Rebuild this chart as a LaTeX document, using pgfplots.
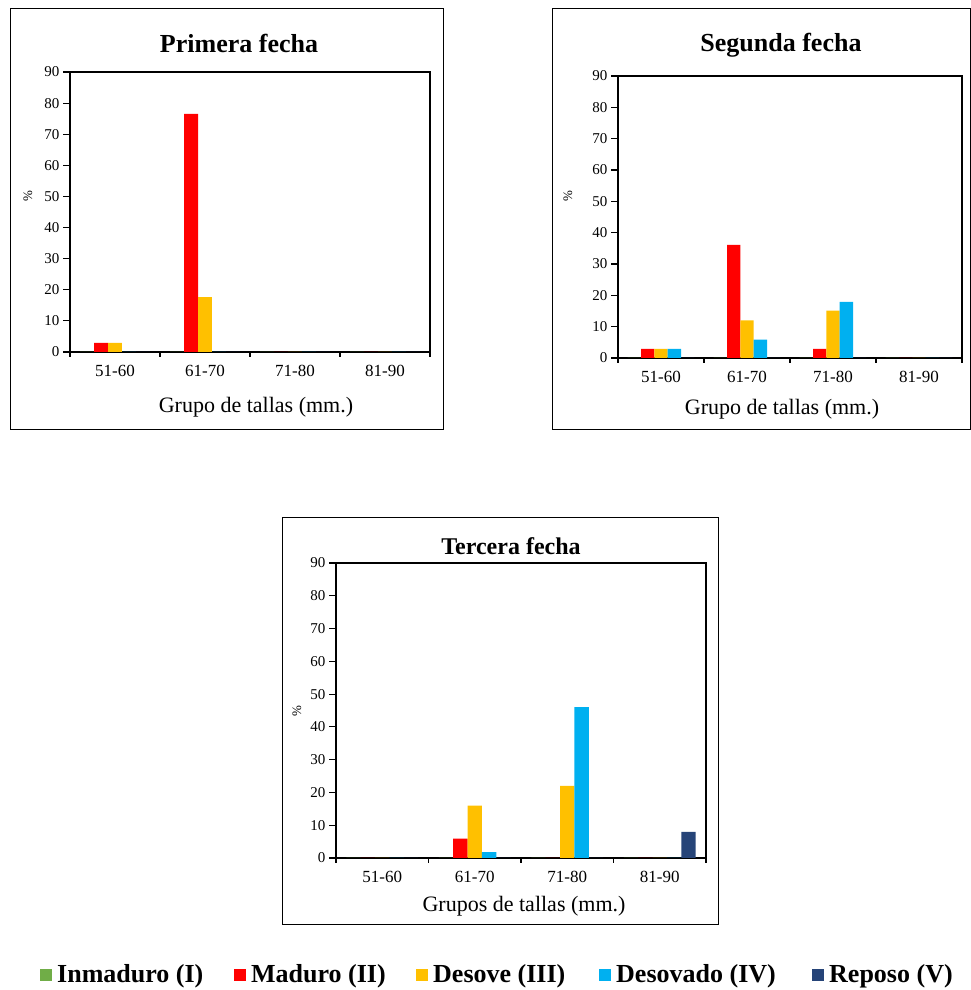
\documentclass[border=0pt]{standalone}
\usepackage{fontspec}
\setmainfont{Liberation Serif}
\usepackage{pgfplots}
\usepackage{pgfplotstable}
\pgfplotsset{compat=1.18}

\definecolor{cInm}{HTML}{70AD47}
\definecolor{cMad}{HTML}{FF0000}
\definecolor{cDes}{HTML}{FFC000}
\definecolor{cDsv}{HTML}{00B0F0}
\definecolor{cRep}{HTML}{264478}

\pgfplotstableread{
cat inm mad des dsv rep
0 0 2.9 2.9 0 0
1 0 76.5 17.6 0 0
2 0 0 0 0 0
3 0 0 0 0 0
}\primera
\pgfplotstableread{
cat inm mad des dsv rep
0 0 2.9 2.9 2.9 0
1 0 36.1 12.0 5.9 0
2 0 2.9 15.1 17.9 0
3 0 0 0 0 0
}\segunda
\pgfplotstableread{
cat inm mad des dsv rep
0 0 0 0 0 0
1 0 5.9 16.0 1.8 0
2 0 0 22.0 46.0 0
3 0 0 0 0 8.0
}\tercera

\pgfplotsset{
  panel/.style={
    scale only axis,
    xmin=-0.5, xmax=3.5, ymin=0, ymax=90,
    ytick={0,10,...,90},
    xtick={0,1,2,3},
    xticklabels={51-60,61-70,71-80,81-90},
    minor xtick={-0.5,0.5,1.5,2.5,3.5},
    major x tick style={draw=none},
    tick pos=left,
    tick align=outside,
    major tick length=7pt, minor tick length=5pt,
    axis line style={line width=1.1pt},
    tick style={black, line width=1.1pt},
    ybar=0pt, bar width=0.155,
    x tick label style={font=\fontsize{17}{17}\selectfont, yshift=-3pt},
    y tick label style={font=\fontsize{15}{15}\selectfont},
    /pgf/number format/assume math mode=true,
    clip=false,
  },
}

\newcommand{\series}[1]{%
  \addplot[fill=cInm, draw=none] table[x=cat, y=inm] {#1};
  \addplot[fill=cMad, draw=none] table[x=cat, y=mad] {#1};
  \addplot[fill=cDes, draw=none] table[x=cat, y=des] {#1};
  \addplot[fill=cDsv, draw=none] table[x=cat, y=dsv] {#1};
  \addplot[fill=cRep, draw=none] table[x=cat, y=rep] {#1};
}

\begin{document}
\begin{tikzpicture}[x=1pt, y=1pt]
\useasboundingbox (0,0) rectangle (971,990);

% frames
\draw[line width=1pt] (10.5,981.5) rectangle (443,560);
\draw[line width=1pt] (552,981.5) rectangle (970,560);
\draw[line width=1pt] (282,472) rectangle (718,65);

% panel 1
\begin{axis}[panel, at={(70pt,638pt)}, anchor=south west, width=360pt, height=280pt]
\series{\primera}
\end{axis}
\node[font=\fontsize{26}{26}\selectfont\bfseries] at (239,947) {Primera fecha};
\node[font=\fontsize{22}{22}\selectfont] at (256,583) {Grupo de tallas (mm.)};
\node[font=\fontsize{13}{13}\selectfont, rotate=90] at (28,794) {\%};

% panel 2
\begin{axis}[panel, at={(618pt,632pt)}, anchor=south west, width=344pt, height=282pt]
\series{\segunda}
\end{axis}
\node[font=\fontsize{26}{26}\selectfont\bfseries] at (781,945) {Segunda fecha};
\node[font=\fontsize{22}{22}\selectfont] at (782,581) {Grupo de tallas (mm.)};
\node[font=\fontsize{13}{13}\selectfont, rotate=90] at (568,794) {\%};

% panel 3
\begin{axis}[panel, at={(336pt,132pt)}, anchor=south west, width=370pt, height=295pt]
\series{\tercera}
\end{axis}
\node[font=\fontsize{24}{24}\selectfont\bfseries] at (511,444) {Tercera fecha};
\node[font=\fontsize{22}{22}\selectfont] at (524,84) {Grupos de tallas (mm.)};
\node[font=\fontsize{13}{13}\selectfont, rotate=90] at (297,279) {\%};

% legend
\fill[cInm] (40,9) rectangle (52,21);
\node[anchor=base west, inner sep=0pt, font=\fontsize{26}{26}\selectfont\bfseries] at (57,7) {Inmaduro (I)};
\fill[cMad] (234,9) rectangle (246,21);
\node[anchor=base west, inner sep=0pt, font=\fontsize{26}{26}\selectfont\bfseries] at (251,7) {Maduro (II)};
\fill[cDes] (416,9) rectangle (428,21);
\node[anchor=base west, inner sep=0pt, font=\fontsize{26}{26}\selectfont\bfseries] at (433,7) {Desove (III)};
\fill[cDsv] (599,9) rectangle (611,21);
\node[anchor=base west, inner sep=0pt, font=\fontsize{26}{26}\selectfont\bfseries] at (616,7) {Desovado (IV)};
\fill[cRep] (812,9) rectangle (824,21);
\node[anchor=base west, inner sep=0pt, font=\fontsize{26}{26}\selectfont\bfseries] at (829,7) {Reposo (V)};
\end{tikzpicture}
\end{document}
